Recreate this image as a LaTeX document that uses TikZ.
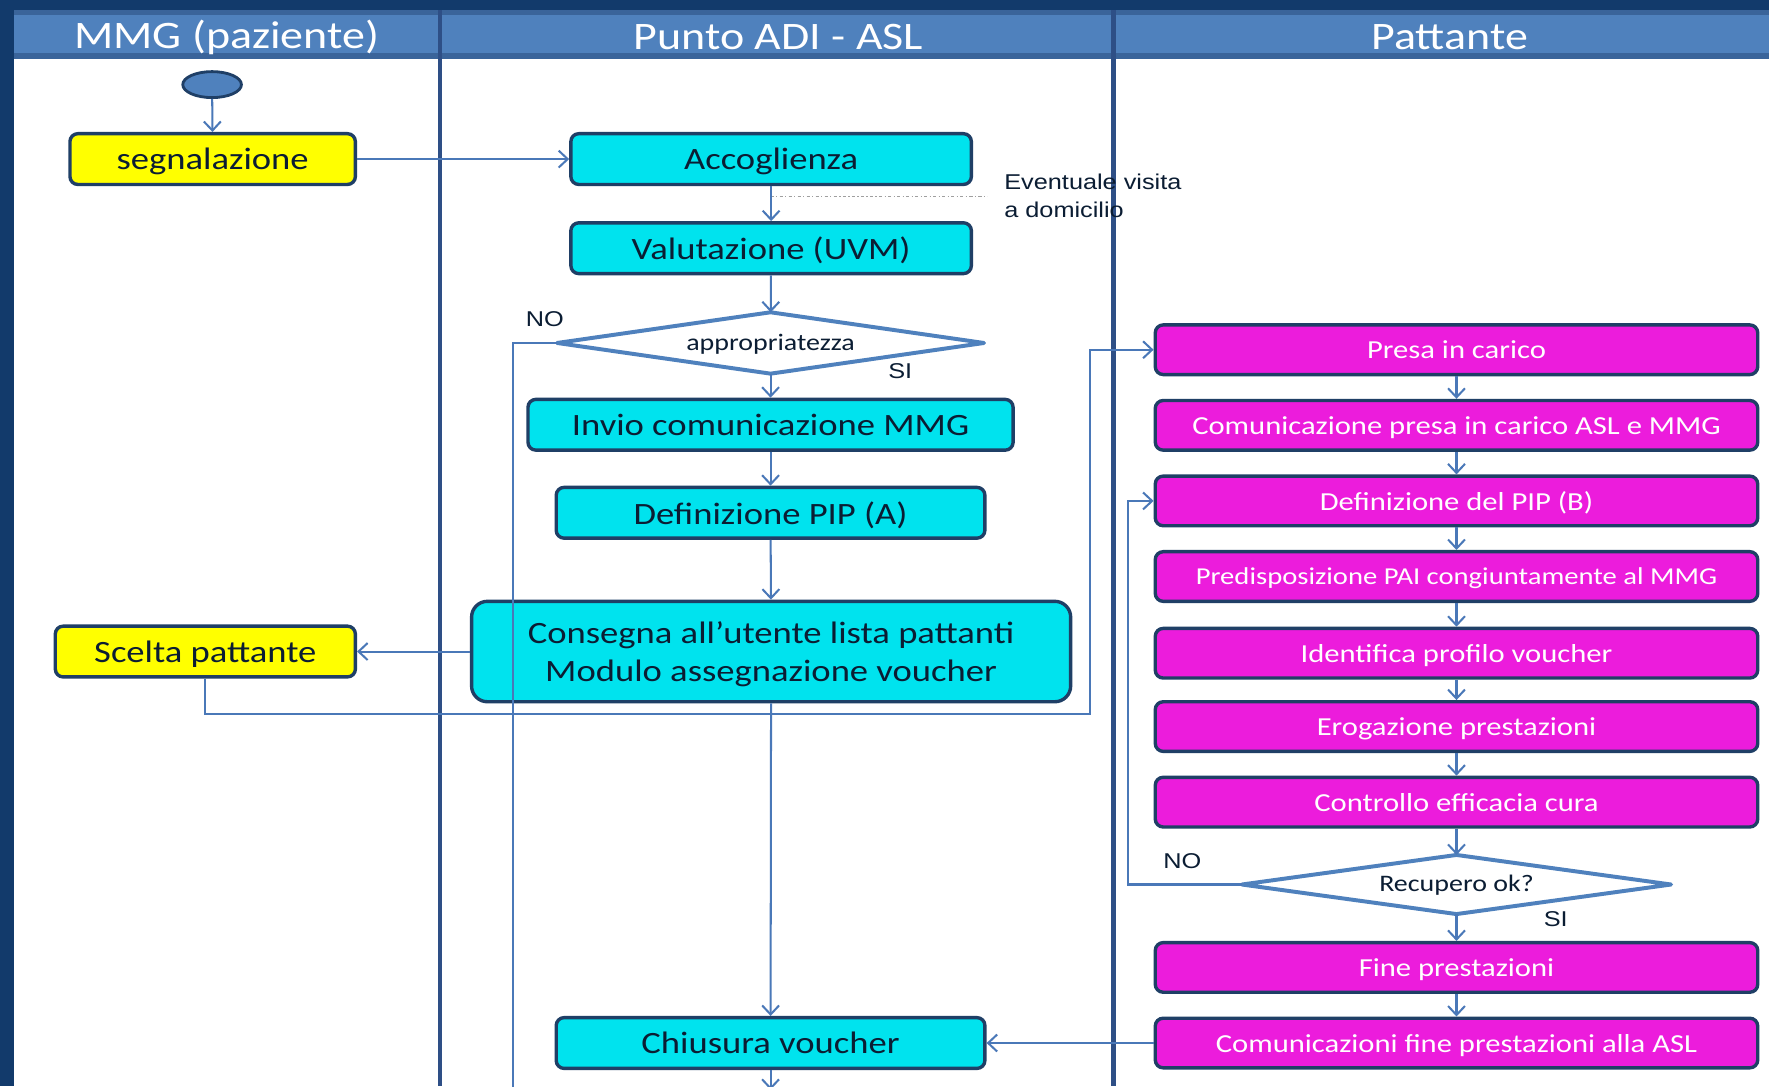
\documentclass[tikz,border=0pt]{standalone}
\usepackage{fontspec}
\setmainfont[FakeStretch=1.18]{Carlito}
\newfontfamily\arialf[FakeStretch=1.18]{Liberation Sans}
\usetikzlibrary{shapes.geometric,arrows.meta}
\definecolor{navy}{HTML}{123A6B}
\definecolor{hdr}{HTML}{4F81BD}
\definecolor{hdrdk}{HTML}{3A649A}
\definecolor{lanec}{HTML}{2E4F86}
\definecolor{conn}{HTML}{4A78B8}
\definecolor{bord}{HTML}{1F3F66}
\definecolor{cyanf}{HTML}{00E3EE}
\definecolor{magf}{HTML}{EC1CDC}
\definecolor{yelf}{HTML}{FFFF00}
\definecolor{txtd}{HTML}{0B1D33}
\tikzset{
  box/.style={draw=bord, line width=3pt, rounded corners=7pt, minimum height=45pt, inner sep=0pt, align=center, text depth=0pt},
  cbox/.style={box, fill=cyanf, text=txtd, font=\fontsize{27.5}{34}\selectfont},
  ybox/.style={box, fill=yelf, text=txtd, font=\fontsize{27.5}{34}\selectfont},
  mbox/.style={box, fill=magf, text=white, minimum width=534pt, minimum height=44pt, font=\fontsize{23}{28}\selectfont},
  dframe/.style={rectangle, draw=none, inner sep=0pt},
  dline/.style={draw=hdr, line width=3.5pt, fill=white, line join=round},
  dtxt/.style={text=txtd, inner sep=0pt, font=\fontsize{21}{24}\selectfont},
  arr/.style={draw=conn, line width=1.8pt, -{Straight Barb[length=8pt,width=15pt,line width=1.8pt]}},
  ln/.style={draw=conn, line width=1.8pt},
  lbl/.style={font=\arialf\fontsize{19}{26}\selectfont, text=txtd, inner sep=0pt},
  hdrtxt/.style={font=\fontsize{34.5}{40}\selectfont, text=white},
}
\begin{document}
\begin{tikzpicture}[x=1pt,y=-1pt]
\useasboundingbox (0,0) rectangle (1568,963);
\clip (0,0) rectangle (1568,963);
% background
\fill[navy] (0,0) rectangle (1568,963);
\fill[white] (12,52) rectangle (1568,963);
\fill[hdr] (12,9) rectangle (1568,52);
\fill[hdrdk] (12,9) rectangle (1568,13);
\fill[hdrdk] (12,47) rectangle (1568,52);
% lanes
\draw[lanec, line width=4pt] (390,9) -- (390,963);
\draw[lanec, line width=4pt] (987,9) -- (987,963);
% headers
\node[hdrtxt] (h1) at (201,33) {MMG (paziente)};
\node[hdrtxt] (h2) at (690,33) {Punto ADI - ASL};
\node[hdrtxt] (h3) at (1285,33) {Pattante};
% nodes MMG
\node[ellipse, draw=bord, line width=2.5pt, fill=hdr, minimum width=52pt, minimum height=23pt, inner sep=0pt] (start) at (188,75) {};
\node[ybox, minimum width=253pt] (seg) at (188.5,141) {segnalazione};
\node[ybox, minimum width=266pt] (scel) at (182,577.5) {Scelta pattante};
% nodes ASL
\node[cbox, minimum width=355pt] (acc) at (683.5,141) {Accoglienza};
\node[cbox, minimum width=355pt] (val) at (683.5,220) {Valutazione (UVM)};
\node[dframe, minimum width=378pt, minimum height=54pt] (app) at (683,304) {};
\draw[dline] (app.north) -- (app.east) -- (app.south) -- (app.west) -- cycle;
\node[dtxt] (appt) at (683,305) {appropriatezza};
\node[cbox, minimum width=430pt] (inv) at (683,376.5) {Invio comunicazione MMG};
\node[cbox, minimum width=380pt] (pipa) at (683,454.5) {Definizione PIP (A)};
\node[cbox, minimum width=531pt, minimum height=89pt, rounded corners=14pt] (cons) at (683.5,577.5) {Consegna all’utente lista pattanti\\Modulo assegnazione voucher};
\node[cbox, minimum width=380pt] (chi) at (683,924.5) {Chiusura voucher};
% nodes Pattante
\node[mbox] (pres) at (1291,310) {Presa in carico};
\node[mbox] (com) at (1291,377) {Comunicazione presa in carico ASL e MMG};
\node[mbox] (pipb) at (1291,444) {Definizione del PIP (B)};
\node[mbox, font=\fontsize{21.5}{26}\selectfont] (pred) at (1291,511) {Predisposizione PAI congiuntamente al MMG};
\node[mbox] (iden) at (1291,579) {Identifica profilo voucher};
\node[mbox] (erog) at (1291,644) {Erogazione prestazioni};
\node[mbox] (cont) at (1291,711) {Controllo efficacia cura};
\node[dframe, minimum width=380pt, minimum height=52pt] (rec) at (1291,784) {};
\draw[dline] (rec.north) -- (rec.east) -- (rec.south) -- (rec.west) -- cycle;
\node[dtxt] (rect) at (1291,785) {Recupero ok?};
\node[mbox] (fine) at (1291,857.5) {Fine prestazioni};
\node[mbox] (comf) at (1291,924.5) {Comunicazioni fine prestazioni alla ASL};
% labels
\node[lbl, anchor=west] (ev1) at (890,161) {Eventuale visita};
\node[lbl, anchor=west] (ev2) at (890,186) {a domicilio};
\node[lbl] (no1) at (483,283) {NO};
\node[lbl] (si1) at (798,329) {SI};
\node[lbl] (no2) at (1048,763) {NO};
\node[lbl] (si2) at (1379,815) {SI};
% coordinates
\coordinate (dot1) at (683,174);
\coordinate (dot2) at (875,174);
\coordinate (noA) at (455,304);
\coordinate (noAend) at (455,970);
\coordinate (sc1) at (966,633);
\coordinate (noB) at (1000,784);
\coordinate (chiend) at (683,966);
% connectors
\draw[arr] (start) -- (seg);
\draw[arr] (seg) -- (acc);
\draw[gray!75, line width=1.4pt, dash pattern=on 3pt off 2pt on 1pt off 2pt] (dot1) -- (dot2);
\draw[arr] (acc) -- (val);
\draw[arr] (val) -- (app);
\draw[arr] (app) -- (inv);
\draw[arr] (inv) -- (pipa);
\draw[arr] (pipa) -- (cons);
\draw[arr] (cons) -- (scel);
\draw[arr] (scel.south) |- (sc1) |- (pres.west);
\draw[arr] (cons) -- (chi);
\draw[arr] (comf) -- (chi);
\draw[arr] (chi.south) -- (chiend);
\draw[ln] (app.west) -- (noA) -- (noAend);
\draw[arr] (pres) -- (com);
\draw[arr] (com) -- (pipb);
\draw[arr] (pipb) -- (pred);
\draw[arr] (pred) -- (iden);
\draw[arr] (iden) -- (erog);
\draw[arr] (erog) -- (cont);
\draw[arr] (cont) -- (rec);
\draw[arr] (rec) -- (fine);
\draw[arr] (fine) -- (comf);
\draw[arr] (rec.west) -- (noB) |- (pipb.west);
\end{tikzpicture}
\end{document}
